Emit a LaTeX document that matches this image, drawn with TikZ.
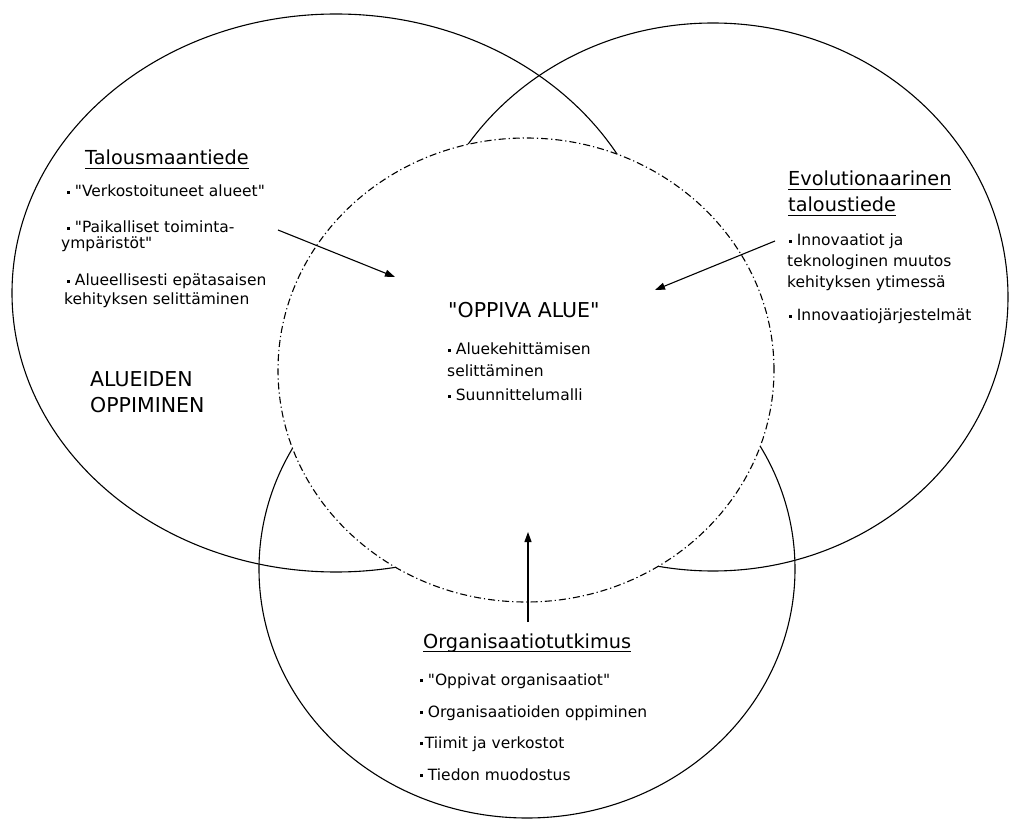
\documentclass[tikz,border=0pt]{standalone}
\usepackage{fontspec}
\setmainfont{DejaVu Sans}[Ligatures=TeXOff]
\usetikzlibrary{shapes.geometric,arrows.meta}
\newcommand{\mybul}{\rule[3pt]{2.7pt}{2.7pt}}
\newcommand{\q}{"}
\newcommand{\myul}[1]{\setbox0\hbox{#1}\rlap{\rule[-3.5pt]{\wd0}{0.9pt}}\box0}
\tikzset{
  ring/.style={draw, ellipse, line width=1.1pt, inner sep=0pt, outer sep=0pt},
  core/.style={draw, ellipse, fill=white, line width=1.1pt, inner sep=0pt, outer sep=0pt,
    dash pattern=on 7pt off 3pt on 1.2pt off 3pt},
  txt/.style={anchor=base west, inner sep=0pt, font=\fontsize{15.5}{18}\selectfont},
  head/.style={anchor=base west, inner sep=0pt, font=\fontsize{19.3}{22}\selectfont},
  big/.style={anchor=base west, inner sep=0pt, font=\fontsize{20.5}{24}\selectfont},
  arr/.style={-{Triangle[length=10pt,width=7pt]}, line width=1.1pt},
}
\begin{document}
\begin{tikzpicture}[x=1pt,y=-1pt]
\useasboundingbox (0,0) rectangle (1013,826);
% outer circles
\node[ring, minimum width=648pt, minimum height=558pt] (left) at (336,293) {};
\node[ring, minimum width=590pt, minimum height=548pt] (right) at (713,297) {};
\node[ring, minimum width=536pt, minimum height=498pt] (bottom) at (527,569) {};
% central circle
\node[core, minimum width=496pt, minimum height=464pt] (center) at (526,370) {};

% arrows
\coordinate (a1s) at (278,230);
\coordinate (a1e) at (395,277);
\coordinate (a2s) at (775,241);
\coordinate (a2e) at (655,290);
\coordinate (a3s) at (528,622);
\coordinate (a3e) at (528,532);
\draw[arr] (a1s) -- (a1e);
\draw[arr] (a2s) -- (a2e);
\draw[arr] (a3s) -- (a3e);

% left block
\node[head] (lt) at (85,165) {\myul{Talousmaantiede}};
\node[txt] (l1) at (67,197) {\mybul\hspace{5pt}\q Verkostoituneet alueet\q};
\node[txt] (l2) at (67,233) {\mybul\hspace{5pt}\q Paikalliset toiminta-};
\node[txt] (l2b) at (61,249) {ympäristöt\q};
\node[txt] (l3) at (67,286) {\mybul\hspace{5pt}Alueellisesti epätasaisen};
\node[txt] (l3b) at (64,305) {kehityksen selittäminen};
\node[big] (ld1) at (90,387) {ALUEIDEN};
\node[big] (ld2) at (90,413) {OPPIMINEN};

% right block
\node[head] (rt1) at (788,186) {\myul{Evolutionaarinen}};
\node[head] (rt2) at (788,212) {\myul{taloustiede}};
\node[txt] (r1) at (789,246) {\mybul\hspace{5pt}Innovaatiot ja};
\node[txt] (r1b) at (787,267) {teknologinen muutos};
\node[txt] (r1c) at (787,288) {kehityksen ytimessä};
\node[txt] (r2) at (789,321) {\mybul\hspace{5pt}Innovaatiojärjestelmät};

% center block
\node[big] (ct) at (448,318) {\q OPPIVA ALUE\q};
\node[txt] (c1) at (448,355) {\mybul\hspace{5pt}Aluekehittämisen};
\node[txt] (c1b) at (447,377) {selittäminen};
\node[txt] (c2) at (448,401) {\mybul\hspace{5pt}Suunnittelumalli};

% bottom block
\node[head] (bt) at (423,648) {\myul{Organisaatiotutkimus}};
\node[txt] (b1) at (420,685) {\mybul\hspace{5pt}\q Oppivat organisaatiot\q};
\node[txt] (b2) at (420,717) {\mybul\hspace{5pt}Organisaatioiden oppiminen};
\node[txt] (b3) at (420,748) {\mybul\hspace{2pt}Tiimit ja verkostot};
\node[txt] (b4) at (420,780) {\mybul\hspace{5pt}Tiedon muodostus};
\end{tikzpicture}
\end{document}
